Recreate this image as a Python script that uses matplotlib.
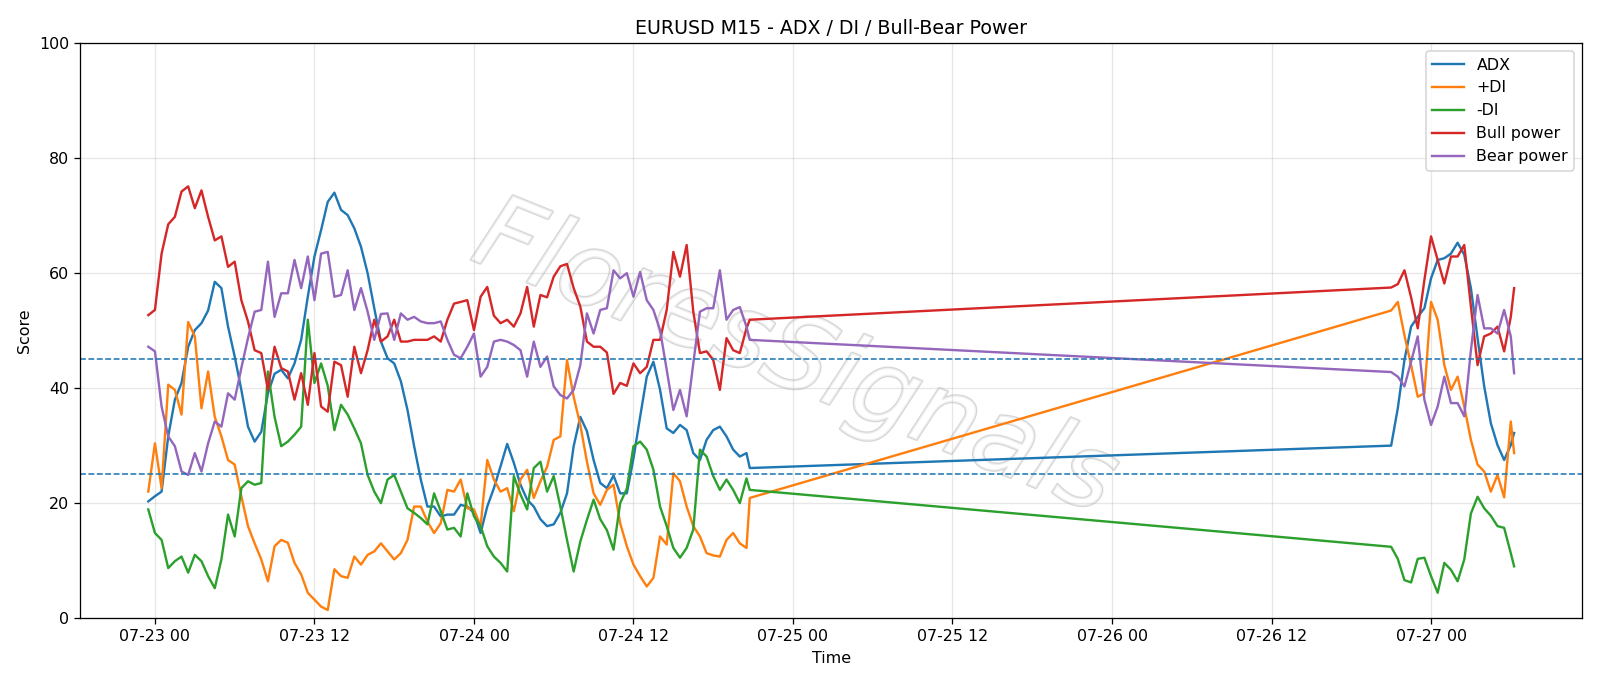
import numpy as np
import pandas as pd
import matplotlib
matplotlib.use("Agg")
import matplotlib.pyplot as plt
import matplotlib.dates as mdates
import matplotlib.patheffects as pe

# time axis: friday session (30 min samples) + sunday/monday session
seg1 = pd.date_range("2025-07-22 23:30", periods=91, freq="30min").append(
    pd.DatetimeIndex(["2025-07-24 20:45"]))
seg2 = pd.date_range("2025-07-26 21:00", periods=19, freq="30min").append(
    pd.DatetimeIndex(["2025-07-27 06:15"]))
times = seg1.append(seg2)

adx = [
    20.3, 21.2, 22, 31.6, 38, 40.9, 47.2, 50.1, 51.3, 53.5, 58.5, 57.4, 50.7,
    45.5, 39.7, 33.3, 30.7, 32.4, 39.1, 42.5, 43.2, 41.7, 44.3, 48.4, 55.9,
    62.9, 67.5, 72.4, 74, 71, 70.1, 67.8, 64.6, 60, 53.9, 48.1, 45.2, 44.3,
    41.2, 36.2, 29.9, 24.1, 19.4, 19.4, 17.7, 18, 18, 19.7, 19.4,
    18.3, 14.8, 19.4, 22.6, 26.4, 30.3, 27, 23.2, 20.6, 19.4, 17.2, 16, 16.3,
    18.3, 21.7, 29.9, 35, 32.5, 27.5, 23.5, 22.6, 24.8, 21.7,
    21.7, 27.8, 35, 42, 44.6, 39.7, 33, 32.2, 33.6, 32.7, 28.7, 27.5, 31,
    32.7, 33.3, 31.6, 29.3, 28.1, 28.7, 26.1,
    # second session
    30, 36.5, 44.9, 50.7, 52.4, 53.9, 59.1, 62.3, 62.6, 63.4, 65.3, 63.2,
    57.4, 48.7, 40.3, 33.9, 30.1, 27.5, 30.1, 32.2,
]
plus_di = [
    22, 30.4, 22.6, 40.6, 39.7, 35.4, 51.5, 49, 36.5, 42.9, 35, 31.6, 27.5,
    26.7, 21.2, 16, 13, 10.2, 6.4, 12.5, 13.6, 13.1, 9.6, 7.6, 4.4,
    3.2, 2, 1.4, 8.5, 7.3, 7, 10.7, 9.3, 11, 11.6, 13, 11.6, 10.2, 11.3, 13.6,
    19.4, 19.4, 16.8, 14.8, 16.5, 22.3, 22, 24.1, 19.1,
    18.9, 16, 27.5, 24.1, 22, 22.6, 18.6, 24.1, 25.8, 20.9, 23.8, 26.3, 31,
    31.6, 44.9, 38.5, 33.6, 27.2, 21.7, 19.7, 22.3, 23.2, 16.5,
    12.5, 9.3, 7.3, 5.5, 7, 14.2, 12.8, 25.2, 23.8, 19.4, 16, 14.2, 11.3,
    10.9, 10.7, 13.6, 14.8, 13, 12.2, 20.9,
    # second session
    53.5, 55, 49.2, 44, 38.5, 39.1, 55, 51.9, 44, 39.7, 42, 36.8, 31, 26.7,
    25.5, 22, 24.9, 21, 34.2, 28.7,
]
minus_di = [
    18.9, 14.8, 13.6, 8.7, 9.9, 10.7, 7.9, 11, 9.9, 7.3, 5.2, 10.2, 18, 14.2,
    22.6, 23.8, 23.2, 23.5, 42.9, 35, 29.9, 30.7, 31.9, 33.3, 51.9,
    40.9, 44.3, 40.4, 32.7, 37.1, 35.4, 33, 30.4, 24.9, 22, 20, 24.1, 24.9,
    22, 19.1, 18.3, 17.4, 16.3, 21.7, 18.6, 15.4, 15.7, 14.2, 21.7,
    17.7, 16, 12.5, 10.7, 9.6, 8.1, 24.7, 21.5, 18.9, 26.1, 27.2, 22, 24.7,
    19.4, 13.6, 8.1, 13.3, 17.1, 20.6, 17.2, 15.3, 11.9, 20,
    22.5, 29.9, 30.7, 29.3, 25.8, 19.4, 16, 12.2, 10.5, 12.2, 15.4, 29.3,
    28.1, 24.7, 22.3, 24.1, 22.3, 20, 24.3, 22.3,
    # second session
    12.4, 10.3, 6.6, 6.2, 10.3, 10.5, 7.3, 4.4, 9.6, 8.4, 6.4, 10.2, 18.2,
    21.1, 19.1, 17.8, 16, 15.7, 11.3, 9,
]
bull = [
    52.7, 53.6, 63.4, 68.5, 69.8, 74.2, 75.1, 71.3, 74.4, 69.8, 65.7, 66.4,
    61.1, 62, 55.3, 51.6, 46.6, 46.1, 39.7, 47.2, 43.5, 42.9, 38, 42.6, 37.1,
    46.1, 36.8, 35.9, 44.6, 44, 38.5, 47.2, 42.6, 46.6, 51.9, 48.1, 49, 51.9,
    48.1, 48.1, 48.4, 48.4, 48.4, 49, 48.1, 51.9, 54.7, 55, 55.3,
    50.1, 55.9, 57.6, 52.6, 51.3, 51.9, 50.7, 53, 57.6, 50.7, 56.2, 55.8,
    59.4, 61.2, 61.6, 57.4, 54.2, 48.1, 47.2, 47.2, 46.2, 39, 40.9,
    40.4, 44.3, 42.6, 43.7, 48.4, 48.4, 53.6, 63.7, 59.4, 64.9, 53.3, 46.1,
    46.4, 44.9, 39.7, 48.7, 46.6, 46.1, 50.4, 51.9,
    # second session
    57.5, 58.1, 60.5, 55.8, 50.4, 58.8, 66.4, 62.3, 58.2, 62.9, 62.9, 64.9,
    54.2, 44, 49, 49.5, 50.7, 46.4, 52.4, 57.4,
]
bear = [
    47.2, 46.4, 36.8, 31.6, 29.9, 25.5, 24.9, 28.7, 25.5, 30.4, 34.2, 33.3,
    39.1, 38, 43.5, 48.7, 53.3, 53.6, 62, 52.4, 56.5, 56.5, 62.3, 57.4, 62.9,
    55.3, 63.4, 63.7, 55.9, 56.2, 60.5, 53.6, 57.4, 53.3, 48.4, 52.9, 53,
    48.4, 53, 51.9, 52.4, 51.6, 51.3, 51.3, 51.6, 48.4, 45.8, 45.2, 47.2,
    49.5, 42, 43.7, 48.1, 48.4, 48.1, 47.5, 46.6, 42, 48.1, 43.7, 45.5, 40.3,
    38.8, 38.2, 39.7, 44, 53, 49.5, 53.6, 53.9, 60.5, 59.1,
    60, 55.9, 60.2, 55.3, 53.6, 50.1, 43.2, 36.2, 39.7, 35.1, 44.3, 53.3,
    53.9, 53.9, 60.5, 51.9, 53.6, 54.1, 50.7, 48.4,
    # second session
    42.8, 42, 40.3, 44.6, 49, 38, 33.6, 36.8, 42, 37.4, 37.4, 35.1, 46.6,
    56.2, 50.4, 50.4, 49.5, 53.6, 49, 42.6,
]
levels = [25, 45]

DPI = 1600 / 14
fig, ax = plt.subplots(figsize=(14, 686 / DPI), dpi=DPI)
fig.subplots_adjust(left=0.05, right=0.989, top=0.937, bottom=0.099)

ax.plot(times, adx, label="ADX")
ax.plot(times, plus_di, label="+DI")
ax.plot(times, minus_di, label="-DI")
ax.plot(times, bull, color="C3", label="Bull power")
ax.plot(times, bear, color="C4", label="Bear power")
for lv in levels:
    ax.axhline(lv, ls="--", lw=1, color="C0")

ax.set_ylim(0, 100)
ax.xaxis.set_major_locator(mdates.HourLocator(byhour=[0, 12]))
ax.xaxis.set_major_formatter(mdates.DateFormatter("%m-%d %H"))
ax.grid(True, alpha=0.3)
ax.set_title("EURUSD M15 - ADX / DI / Bull-Bear Power")
ax.set_xlabel("Time")
ax.set_ylabel("Score")
ax.legend(loc="upper right")

# watermark
ax.text(0.476, 0.45, "FloresSignals", transform=ax.transAxes, fontsize=65,
        style="italic", color="white", alpha=0.6, rotation=-22,
        ha="center", va="center", zorder=0,
        path_effects=[pe.withStroke(linewidth=1.6, foreground="#bbbbbb")])

plt.savefig("out.png", dpi=DPI)
